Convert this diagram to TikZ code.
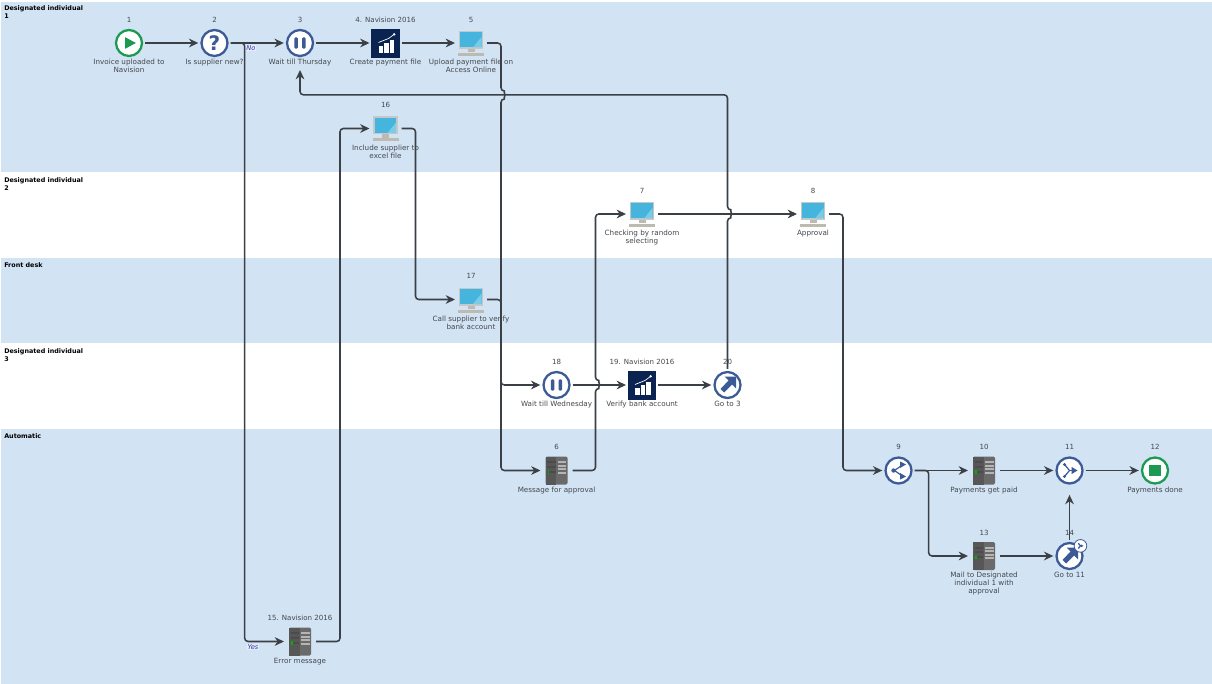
\documentclass[tikz,border=0pt]{standalone}
\usepackage{fontspec}
\usepackage{xcolor}
\setmainfont{DejaVu Sans}
\usetikzlibrary{arrows.meta,positioning}
\definecolor{LaneBlue}{HTML}{D2E3F3}
\definecolor{FlowInk}{HTML}{3B4046}
\definecolor{TextInk}{HTML}{44484D}
\definecolor{RingBlue}{HTML}{3C5A96}
\definecolor{RingGreen}{HTML}{1C9A52}
\definecolor{NavyTile}{HTML}{0B2350}
\definecolor{ScreenBlue}{HTML}{45B5DE}
\definecolor{ScreenPale}{HTML}{7CCBE6}
\definecolor{FrameGrey}{HTML}{C3C8CB}
\definecolor{BaseGrey}{HTML}{BDBBB0}
\definecolor{RackDark}{HTML}{575757}
\definecolor{RackMid}{HTML}{6A6A6A}
\definecolor{RackLight}{HTML}{B4B4B4}
\definecolor{TagInk}{HTML}{3A2FA8}
\tikzset{
  monitoricon/.pic={
    \fill[FrameGrey] (-12.5,-12) rectangle (12,6);
    \fill[ScreenBlue] (-11,-10.5) rectangle (10.5,4.5);
    \fill[ScreenPale] (2,4.5) -- (10.5,-6) -- (10.5,4.5) -- cycle;
    \fill[BaseGrey] (-3.5,6) rectangle (3.5,9.5);
    \fill[BaseGrey] (-13,10) rectangle (13,13);
  },
  rackicon/.pic={
    \fill[RackMid,rounded corners=1pt] (-11,-14) rectangle (11,14);
    \fill[RackDark] (-11,-14) rectangle (-0.5,14);
    \fill[black!70] (-9.5,-9.5) rectangle (-1,-7.5);
    \fill[black!70] (-9.5,-5) rectangle (-1,-3);
    \fill[black!70] (-9.5,0) rectangle (-1,2);
    \fill[RackLight] (1,-9.5) rectangle (9.5,-7.5);
    \fill[RackLight] (1,-6) rectangle (9.5,-4);
    \fill[RackLight] (1,-2.5) rectangle (9.5,-0.5);
    \fill[RackLight] (1,1) rectangle (9.5,3);
    \fill[green!70!black] (-9,-0.5) rectangle (-7.5,3);
  },
  navisionicon/.pic={
    \fill[NavyTile] (-14.3,-14.3) rectangle (14,14.7);
    \fill[white] (-6.8,2.7) rectangle (-2.4,9.7);
    \fill[white] (-1.2,0.4) rectangle (3.2,9.7);
    \fill[white] (4.4,-3) rectangle (8.8,9.7);
    \draw[white,line width=.5pt] (-7,-0.5) -- (3,-4.5) -- (8.5,-8.5);
    \fill[white] (8.7,-8.7) circle (1.3);
  },
  pausesign/.pic={
    \fill[RingBlue,rounded corners=.8pt] (-5.6,-5.6) rectangle (-2.2,5.6);
    \fill[RingBlue,rounded corners=.8pt] (2.2,-5.6) rectangle (5.6,5.6);
  },
  gotosign/.pic={
    \fill[RingBlue] (8.5,-8.5) -- (8.5,3.5) -- (4.5,-0.5) -- (-3.5,7.5) -- (-7,4) -- (1,-4.5) -- (-3,-8.5) -- cycle;
  },
  splitsign/.pic={
    \draw[RingBlue,line width=.9pt] (-4,0) -- (1,-3.5) -- (3,-5);
    \draw[RingBlue,line width=.9pt] (-4,0) -- (1,3.5) -- (3,5);
    \fill[RingBlue] (-5,0) circle (2.2);
    \fill[RingBlue] (7.5,-6) -- (1.5,-9) -- (1.5,-2.5) -- cycle;
    \fill[RingBlue] (7.5,6) -- (1.5,9) -- (1.5,2.5) -- cycle;
  },
  mergesign/.pic={
    \draw[RingBlue,line width=.9pt] (-5,-6) -- (0,0) -- (-5,6);
    \draw[RingBlue,line width=.9pt] (0,0) -- (3,0);
    \fill[RingBlue] (8,0) -- (2,-3.6) -- (2,3.6) -- cycle;
    \fill[RingBlue] (-5,-6) circle (1.6);
    \fill[RingBlue] (-5,6) circle (1.6);
  }
}
\newcommand{\stepnotes}[3]{%
  \node[numtext] (#1num) at ([yshift=17.6pt]#1.center) {#2};
  \node[captext] (#1cap) at ([yshift=-12pt]#1.center) {#3};
}
\begin{document}
\begin{tikzpicture}[
  x=.75pt,y=-.75pt,
  on grid,
  node distance=64.125pt and 64.125pt,
  lane/.style={fill=LaneBlue},
  lanetext/.style={anchor=north west,inner sep=0pt,align=left,font=\fontsize{4.8pt}{6pt}\selectfont\bfseries,text=black},
  ring/.style={circle,draw=RingBlue,fill=white,line width=1.7pt,minimum size=19.5pt,inner sep=0pt,outer sep=2.4pt},
  greenring/.style={ring,draw=RingGreen},
  iconbox/.style={rectangle,minimum size=24pt,inner sep=0pt,outer sep=0pt},
  flow/.style={-{Stealth[length=7pt,width=6.5pt]},draw=FlowInk,line width=1.15pt,rounded corners=2.5pt},
  numtext/.style={inner sep=0pt,font=\fontsize{5.3pt}{6pt}\selectfont,text=TextInk},
  captext/.style={anchor=north,inner sep=0pt,align=center,font=\fontsize{5.4pt}{6pt}\selectfont,text=TextInk},
  tagtext/.style={inner sep=.5pt,fill=white!40!LaneBlue,font=\fontsize{5pt}{5pt}\selectfont\itshape,text=TagInk}
]
\useasboundingbox (0,0) rectangle (1212,684);
\fill[white] (0,0) rectangle (1212,684);
% lanes
\fill[lane] (1,2) rectangle (1212,172);
\fill[lane] (1,258) rectangle (1212,343);
\fill[lane] (1,429) rectangle (1212,684);
\node[lanetext] (laneone) at (4,5.5) {Designated individual\\1};
\node[lanetext] (lanetwo) at (4,177) {Designated individual\\2};
\node[lanetext] (lanedesk) at (4,262) {Front desk};
\node[lanetext] (lanethree) at (4,348) {Designated individual\\3};
\node[lanetext] (laneauto) at (4,433.5) {Automatic};
% steps
\node[greenring] (invoice) at (129,43) {};
\node[ring,right=of invoice,font=\fontsize{15pt}{15pt}\selectfont\bfseries,text=RingBlue] (supplier) {?};
\node[ring,right=of supplier] (waitthu) {};
\node[iconbox,right=of waitthu] (payfile) {};
\node[iconbox,right=of payfile] (upload) {};
\node[iconbox,below=of payfile] (addsupplier) {};
\node[iconbox,below=192.375pt of upload] (callsupplier) {};
\node[ring,below right=of callsupplier] (waitwed) {};
\node[iconbox,right=of waitwed] (verify) {};
\node[ring,right=of verify] (gothree) {};
\node[iconbox,below=of waitwed] (message) {};
\node[iconbox,below=448.875pt of waitthu] (errormsg) {};
\node[iconbox,above=128.25pt of verify] (checking) {};
\node[iconbox,right=128.25pt of checking] (approval) {};
\node[ring,below right=192.375pt and 64.125pt of approval] (split) {};
\node[iconbox,right=of split] (paid) {};
\node[ring,right=of paid] (merge) {};
\node[greenring,right=of merge] (done) {};
\node[iconbox,below=of paid] (mail) {};
\node[ring,below=of merge] (goeleven) {};
% icons
\fill[RingGreen] ([xshift=-3pt,yshift=4.4pt]invoice.center) -- ([xshift=5.2pt]invoice.center) -- ([xshift=-3pt,yshift=-4.4pt]invoice.center) -- cycle;
\fill[RingGreen] ([xshift=-4.2pt,yshift=-4.2pt]done.center) rectangle ([xshift=4.2pt,yshift=4.2pt]done.center);
\pic at (waitthu) {pausesign};
\pic at (waitwed) {pausesign};
\pic at (payfile) {navisionicon};
\pic at (verify) {navisionicon};
\pic at (upload) {monitoricon};
\pic at (addsupplier) {monitoricon};
\pic at (callsupplier) {monitoricon};
\pic at (checking) {monitoricon};
\pic at (approval) {monitoricon};
\pic at (message) {rackicon};
\pic at (errormsg) {rackicon};
\pic at (paid) {rackicon};
\pic at (mail) {rackicon};
\pic at (gothree) {gotosign};
\pic at (goeleven) {gotosign};
\pic at (split) {splitsign};
\pic at (merge) {mergesign};
% captions
\stepnotes{invoice}{1}{Invoice uploaded to\\Navision}
\stepnotes{supplier}{2}{Is supplier new?}
\stepnotes{waitthu}{3}{Wait till Thursday}
\stepnotes{payfile}{4. Navision 2016}{Create payment file}
\stepnotes{upload}{5}{Upload payment file on\\Access Online}
\stepnotes{addsupplier}{16}{Include supplier to\\excel file}
\stepnotes{callsupplier}{17}{Call supplier to verify\\bank account}
\stepnotes{waitwed}{18}{Wait till Wednesday}
\stepnotes{verify}{19. Navision 2016}{Verify bank account}
\stepnotes{gothree}{20}{Go to 3}
\stepnotes{message}{6}{Message for approval}
\stepnotes{errormsg}{15. Navision 2016}{Error message}
\stepnotes{checking}{7}{Checking by random\\selecting}
\stepnotes{approval}{8}{Approval}
\stepnotes{split}{9}{}
\stepnotes{paid}{10}{Payments get paid}
\stepnotes{merge}{11}{}
\stepnotes{done}{12}{Payments done}
\stepnotes{mail}{13}{Mail to Designated\\individual 1 with\\approval}
\stepnotes{goeleven}{14}{Go to 11}
\node[circle,draw=RingBlue,fill=white,line width=.6pt,minimum size=9.5pt,inner sep=0pt] (badge) at ([xshift=8.2pt,yshift=7.6pt]goeleven.center) {};
\pic[scale=.38] at (badge) {mergesign};
% connectors
\draw[flow] (invoice) -- (supplier);
\draw[flow] (supplier) -- (waitthu);
\draw[flow] (supplier.east) -- ++(14,0) |- (errormsg.west);
\draw[flow] (waitthu) -- (payfile);
\draw[flow] (payfile) -- (upload);
\draw[flow] (upload.east) -- ++(14,0) -- ++(0,48) arc[start angle=90,end angle=-90,radius=3pt] |- (message.west);
\draw[flow] (errormsg.east) -- ++(24,0) |- (addsupplier.west);
\draw[flow] (addsupplier.east) -- ++(14,0) |- (callsupplier.west);
\draw[flow] (callsupplier.east) -- ++(14,0) |- (waitwed.west);
\draw[flow] (waitwed) -- (verify);
\draw[flow] (verify) -- (gothree);
\draw[flow] (gothree.north) -- ++(0,-151) arc[start angle=-90,end angle=90,radius=3pt] -- ++(0,-115) -| ([yshift=-20.25pt]waitthu.center);
\draw[flow] (message.east) -- ++(23,0) -- ++(0,-82) arc[start angle=-90,end angle=90,radius=3pt] |- (checking.west);
\draw[flow] (checking) -- (approval);
\draw[flow] (approval.east) -- ++(14,0) |- (split.west);
\draw[flow] (split) -- (paid);
\draw[flow] (split.east) -- ++(14,0) |- (mail.west);
\draw[flow] (paid) -- (merge);
\draw[flow] (merge) -- (done);
\draw[flow] (mail) -- (goeleven);
\draw[flow] (goeleven.north) -- ([yshift=-18.3pt]merge.center);
% branch tags
\node[tagtext] (tagno) at (251,48) {No};
\node[tagtext] (tagyes) at (253,647) {Yes};
\end{tikzpicture}
\end{document}
